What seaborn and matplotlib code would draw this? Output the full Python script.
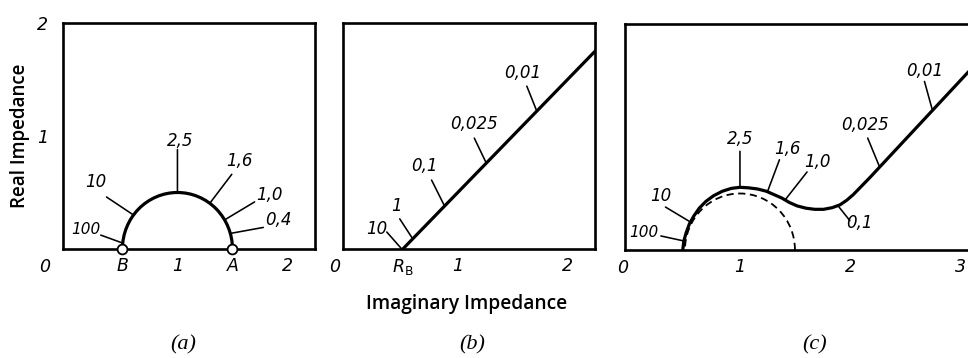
import numpy as np
import matplotlib
matplotlib.use("Agg")
import matplotlib.pyplot as plt
from matplotlib.patches import Arc
import seaborn as sns

# ---- data -------------------------------------------------------------
# equivalent-circuit values (impedance units)
r_ohm = 0.5      # solution resistance, point B / R_B
r_ct = 1.0       # charge-transfer resistance, B -> A

# (a) kinetic control: frequency labels and their polar angle on the arc (deg)
freq_a = ["100", "10", "2,5", "1,6", "1,0", "0,4"]
angle_a = [174, 143, 90, 54, 31, 16]

# (b) diffusion control: straight line starting at R_B
line_b_x = [0.5, 2.25]
line_b_y = [0.0, 1.75]
freq_b = ["10", "1", "0,1", "0,025", "0,01"]
freq_b_x = [0.49, 0.59, 0.88, 1.26, 1.72]

# (c) mixed control: measured curve
curve_c_x = [0.48, 0.49, 0.51, 0.54, 0.58, 0.63, 0.69, 0.76, 0.84, 0.92,
             1.00, 1.08, 1.16, 1.24, 1.31, 1.38, 1.45, 1.52, 1.60, 1.68,
             1.76, 1.84, 1.91, 1.97, 2.03, 2.10, 2.18, 3.08]
curve_c_y = [0.00, 0.08, 0.15, 0.23, 0.30, 0.37, 0.43, 0.48, 0.52, 0.545,
             0.555, 0.55, 0.54, 0.52, 0.49, 0.46, 0.42, 0.39, 0.37, 0.36,
             0.36, 0.375, 0.40, 0.44, 0.49, 0.56, 0.64, 1.58]
freq_c = ["100", "10", "2,5", "1,6", "1,0", "0,1", "0,025", "0,01"]
freq_c_x = [0.49, 0.55, 1.00, 1.25, 1.41, 1.89, 2.27, 2.75]

# ---- label layout (pixel offsets: leader end, text centre) -------------
lead_a = [(-22, 8), (-27, 18), (0, 43), (22, 29), (30, 18), (33, 6)]
text_a = [(-37, 14), (-38, 33), (3, 52), (30, 42), (45, 25), (48, 13)]
lead_b = [(-15, 17), (-13, 20), (-13, 26), (-12, 25), (-10, 25)]
text_b = [(-25, 20), (-16, 33), (-20, 40), (-12, 39), (-14, 38)]
lead_c = [(-23, 5), (-25, 15), (0, 36), (12, 32), (22, 28), (12, -15), (-12, 29), (-8, 29)]
text_c = [(-40, 8), (-30, 26), (0, 48), (20, 43), (32, 38), (22, -17), (-15, 42), (-8, 39)]

# ---- style ------------------------------------------------------------
sns.set_style("white")
plt.rcParams["font.family"] = ["DejaVu Sans"]
plt.rcParams["mathtext.fontset"] = "dejavusans"
for key in ("text.color", "axes.labelcolor", "xtick.color", "ytick.color",
            "axes.edgecolor"):
    plt.rcParams[key] = "black"

W, H = 968, 358
fig = plt.figure(figsize=(W / 100, H / 100), dpi=100)
fig.patch.set_facecolor("white")

TICK_FS = 12.5
LAB_FS = 12
SPINE_LW = 1.9
CURVE_LW = 2.3
LEAD_LW = 1.15
SANS = ["Open Sans", "DejaVu Sans"]


def make_axes(left, right, top, bottom, xlim):
    ax = fig.add_axes([left / W, (H - bottom) / H, (right - left) / W, (bottom - top) / H])
    ax.set_xlim(*xlim)
    ax.set_ylim(0, 2)
    ax.set_facecolor("white")
    for s in ax.spines.values():
        s.set_linewidth(SPINE_LW)
        s.set_color("black")
    ax.tick_params(direction="in", length=11, width=1.3, color="black",
                   labelcolor="black", labelsize=TICK_FS)
    ax.tick_params(axis="x", pad=6)
    ax.tick_params(axis="y", pad=11)
    return ax


def style_ticklabels(ax):
    for lab in ax.get_xticklabels() + ax.get_yticklabels():
        lab.set_fontstyle("italic")
        lab.set_fontsize(TICK_FS)
        lab.set_color("black")


def origin_label(ax, dx, dy):
    ax.annotate("0", xy=(0, 0), xycoords="axes fraction", xytext=(dx, dy),
                textcoords="offset pixels", ha="center", va="center",
                fontsize=TICK_FS, fontstyle="italic", color="black")


def freq_label(ax, x, y, text, lead, txt, fs=LAB_FS):
    ax.annotate("", xy=(x, y), xycoords="data", xytext=lead,
                textcoords="offset pixels",
                arrowprops=dict(arrowstyle="-", lw=LEAD_LW, color="black",
                                shrinkA=0, shrinkB=0))
    ax.annotate(text, xy=(x, y), xycoords="data", xytext=txt,
                textcoords="offset pixels", ha="center", va="center",
                fontsize=fs, fontstyle="italic", color="black")


# ---- (a) --------------------------------------------------------------
ax_a = make_axes(63, 315, 23, 249, (-0.04, 2.25))
centre = r_ohm + r_ct / 2
ax_a.add_patch(Arc((centre, 0), r_ct, r_ct, theta1=0, theta2=180,
                   lw=CURVE_LW, color="black", zorder=3))
sns.scatterplot(x=[r_ohm, r_ohm + r_ct], y=[0, 0], ax=ax_a, s=50,
                facecolor="white", edgecolor="black", linewidth=1.3,
                zorder=6, clip_on=False, legend=False)
ax_a.set_xticks([r_ohm, 1, r_ohm + r_ct, 2], ["B", "1", "A", "2"])
ax_a.set_yticks([1, 2], ["1", "2"])
for i in (0, 2):
    ax_a.xaxis.get_major_ticks()[i].tick1line.set_visible(False)
ax_a.yaxis.get_major_ticks()[1].tick1line.set_visible(False)
style_ticklabels(ax_a)
origin_label(ax_a, -18, -18)
for f, ang, ld, tx in zip(freq_a, angle_a, lead_a, text_a):
    px = centre + r_ct / 2 * np.cos(np.radians(ang))
    py = r_ct / 2 * np.sin(np.radians(ang))
    freq_label(ax_a, px, py, f, ld, tx, fs=11 if f == "100" else LAB_FS)
ax_a.set_ylabel("Real Impedance", fontsize=13.5, fontweight="semibold",
                family=SANS, color="black")
ax_a.yaxis.set_label_coords(-33 / 252, 0.5)

# ---- (b) --------------------------------------------------------------
ax_b = make_axes(343, 595, 23, 249, (-0.045, 2.25))
sns.lineplot(x=line_b_x, y=line_b_y, ax=ax_b, color="black", lw=CURVE_LW,
             estimator=None, sort=False)
ax_b.set_xticks([r_ohm, 1, 2], [r"$R_{\mathrm{B}}$", "1", "2"])
ax_b.xaxis.get_major_ticks()[0].tick1line.set_visible(False)
ax_b.set_yticks([1], [""])
style_ticklabels(ax_b)
origin_label(ax_b, -8, -18)
for f, x, ld, tx in zip(freq_b, freq_b_x, lead_b, text_b):
    y = np.interp(x, line_b_x, line_b_y)
    freq_label(ax_b, x, y, f, ld, tx)
ax_b.set_xlabel("Imaginary Impedance", fontsize=13.8, fontweight="semibold",
                family=SANS, color="black")
ax_b.xaxis.set_label_coords(0.49, -45 / 226)

# ---- (c) --------------------------------------------------------------
ax_c = make_axes(625, 968, 24, 250, (-0.045, 3.073))
ax_c.spines["right"].set_visible(False)
ax_c.add_patch(Arc((centre, 0), r_ct, r_ct, theta1=0, theta2=180,
                   lw=1.3, color="black", linestyle=(0, (4, 2.5)), zorder=2))
sns.lineplot(x=curve_c_x, y=curve_c_y, ax=ax_c, color="black", lw=CURVE_LW,
             estimator=None, sort=False)
ax_c.lines[-1].set_solid_joinstyle("round")
ax_c.set_xticks([1, 2, 3], ["1", "2", "3"])
ax_c.set_yticks([1], [""])
style_ticklabels(ax_c)
origin_label(ax_c, -2, -18)
for f, x, ld, tx in zip(freq_c, freq_c_x, lead_c, text_c):
    y = np.interp(x, curve_c_x, curve_c_y)
    freq_label(ax_c, x, y, f, ld, tx, fs=11 if f == "100" else LAB_FS)

# ---- panel captions ----------------------------------------------------
for x, cap in ((183, "(a)"), (472, "(b)"), (815, "(c)")):
    fig.text(x / W, 1 - 345 / H, cap, ha="center", va="center", fontsize=16,
             fontstyle="italic", family=["Liberation Serif", "DejaVu Serif"],
             color="black")

fig.savefig("out.png", dpi=100, facecolor="white")
